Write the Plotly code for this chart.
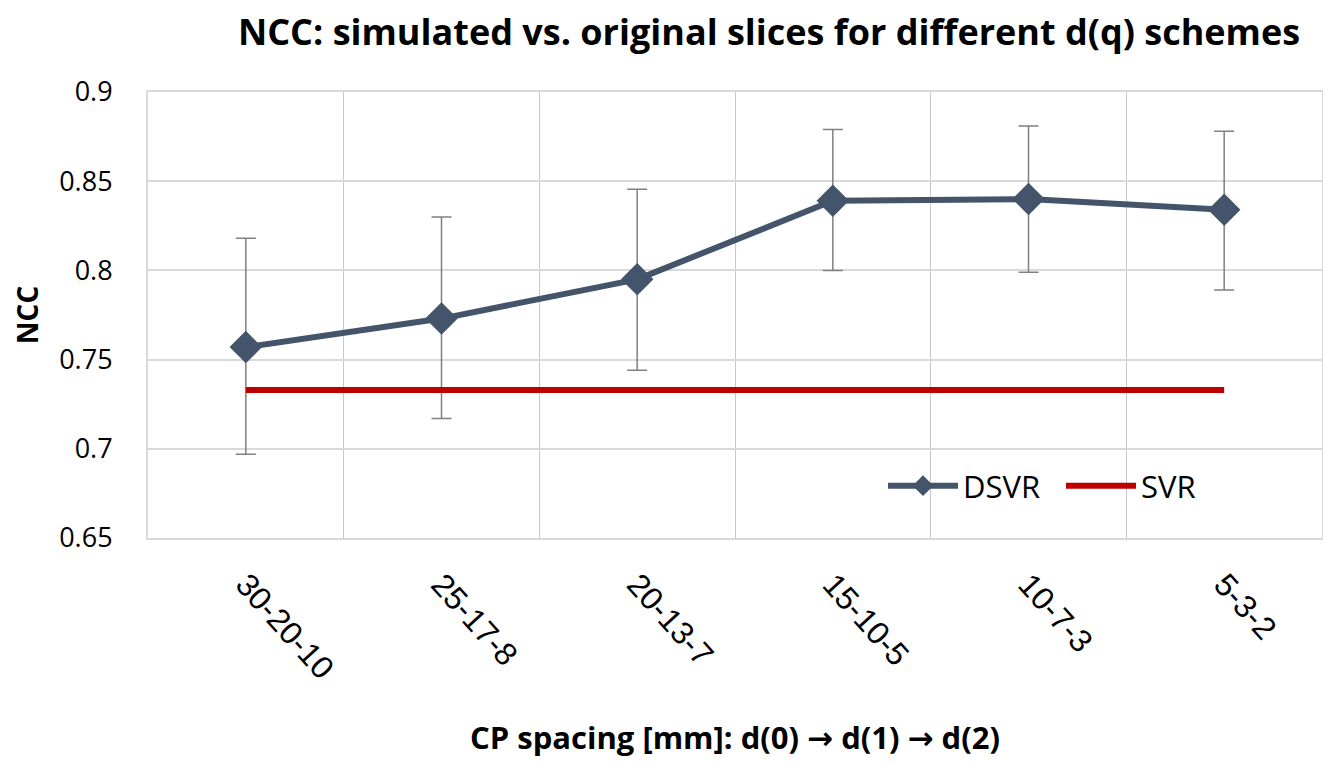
import plotly.graph_objects as go

categories = ["30-20-10", "25-17-8", "20-13-7", "15-10-5", "10-7-3", "5-3-2"]
dsvr = [0.757, 0.773, 0.795, 0.839, 0.840, 0.834]
dsvr_upper = [0.818, 0.830, 0.8455, 0.879, 0.881, 0.878]
dsvr_lower = [0.697, 0.717, 0.744, 0.800, 0.799, 0.789]
svr = [0.733, 0.733, 0.733, 0.733, 0.733, 0.733]
y_ticks = [0.65, 0.7, 0.75, 0.8, 0.85, 0.9]

err_plus = [u - v for u, v in zip(dsvr_upper, dsvr)]
err_minus = [v - l for v, l in zip(dsvr, dsvr_lower)]

W, H = 1315, 750  # page body adds an 8px margin on each side
L, R, T, B = 140, 1, 84, 220

arrow = '<span style="font-family:DejaVu Sans">\u2192</span>'
x_title = f"<b>CP spacing [mm]: d(0) {arrow} d(1) {arrow} d(2)</b>"

fig = go.Figure()
fig.add_trace(go.Scatter(
    x=categories, y=dsvr, name="DSVR", mode="lines+markers",
    line=dict(color="#44546a", width=6),
    marker=dict(symbol="diamond", size=25, color="#44546a"),
    error_y=dict(type="data", symmetric=False, array=err_plus, arrayminus=err_minus,
                 color="#808080", thickness=1.5, width=10),
))
fig.add_trace(go.Scatter(
    x=categories, y=svr, name="SVR", mode="lines",
    line=dict(color="#c00000", width=6),
))

fig.update_layout(
    width=W, height=H,
    paper_bgcolor="white", plot_bgcolor="white",
    margin=dict(l=L, r=R, t=T, b=B, autoexpand=False),
    title=dict(text="<b>NCC: simulated vs. original slices for different d(q) schemes</b>",
               x=761 / W, xanchor="center", xref="container",
               y=1 - 24 / H, yanchor="middle",
               font=dict(family="Open Sans", size=36, color="#000000")),
    legend=dict(orientation="h", x=(875 - L) / (W - L - R), y=(H - B - 478) / (H - T - B),
                xanchor="left", yanchor="middle",
                font=dict(family="Open Sans", size=31, color="#000000"),
                bgcolor="rgba(0,0,0,0)", itemwidth=70, entrywidth=93, entrywidthmode="pixels"),
    showlegend=True,
    xaxis=dict(type="category", range=[-0.5, 5.5], tickson="boundaries", automargin=False,
               showgrid=True, gridcolor="#c8c8c8", gridwidth=1.2,
               showline=True, linecolor="#d9d9d9", linewidth=2, mirror=True,
               tickangle=48, ticks="", ticklabelstandoff=13,
               tickfont=dict(family="Liberation Sans", size=32, color="#000000"),
               title=dict(text=x_title,
                          font=dict(family="Open Sans", size=31, color="#000000"), standoff=44),
               zeroline=False),
    xaxis2=dict(overlaying="x", range=[-0.5, 5.5], tickvals=list(range(len(categories))),
                showticklabels=False, showgrid=True, gridcolor="#c8c8c8", gridwidth=1.2,
                zeroline=False, showline=False, ticks="", automargin=False),
    yaxis=dict(range=[0.65, 0.9], tickvals=y_ticks, ticktext=[f"{v:g}" for v in y_ticks],
               showgrid=True, gridcolor="#d9d9d9", gridwidth=2, automargin=False,
               showline=True, linecolor="#d9d9d9", linewidth=2, mirror=True,
               ticks="", ticklabelstandoff=28, zeroline=False,
               tickfont=dict(family="Open Sans", size=27, color="#000000"),
               title=dict(text="<b>NCC</b>", font=dict(family="Open Sans", size=28, color="#000000"),
                          standoff=14)),
)

fig.write_html("out.html")
